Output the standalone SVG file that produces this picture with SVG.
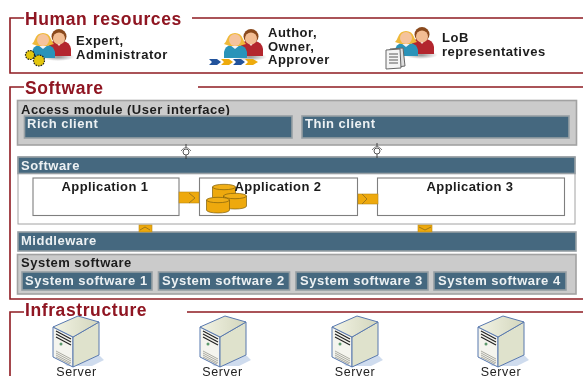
<svg xmlns="http://www.w3.org/2000/svg" width="583" height="376" viewBox="0 0 583 376">
<style>
text{font-family:"Liberation Sans",Arial,sans-serif;font-weight:bold;font-size:13px;letter-spacing:.5px}
.frame{fill:none;stroke:#8f1d22;stroke-width:1.6}
.h{font-size:17.5px;fill:#8f1420;letter-spacing:.6px}
.lbl{fill:#1c1c1c}
.panel{fill:#cbcbcb;stroke:#a2a2a2;stroke-width:1.6}
.blue{fill:#44687f;stroke:#979fa4;stroke-width:1.6}
.w{fill:#edf1f3}
.wb{fill:#fff;stroke:#7f7f7f;stroke-width:1.1}
.app{fill:#1a1a1a;text-anchor:middle;letter-spacing:.4px}
.conn{fill:#eea90c;stroke:#b98a1e;stroke-width:.6}
.cm{fill:none;stroke:#8c6c20;stroke-width:.8}
.srv{fill:#222;font-weight:normal;font-size:12.5px;text-anchor:middle;letter-spacing:.6px}
</style>
<defs>
<filter id="soft" x="-2%" y="-2%" width="104%" height="104%"><feGaussianBlur stdDeviation="0.4"/></filter>
<radialGradient id="sh"><stop offset="0" stop-color="#8f8f8f"/><stop offset="1" stop-color="#999" stop-opacity="0"/></radialGradient>
<linearGradient id="top" x1="0" y1="0" x2="1" y2="0"><stop offset="0" stop-color="#f2f3e4"/><stop offset="1" stop-color="#d3d6bd"/></linearGradient>
<symbol id="people" width="44" height="40" viewBox="0 0 44 40" overflow="visible">
<ellipse cx="27" cy="28" rx="17" ry="4" fill="url(#sh)"/>
<path d="M17 27V19q1-6 6-7h9q7 1 8 8v7z" fill="#b3262f"/>
<path d="M24 12l4 5 4-5z" fill="#f3f3f3"/>
<circle cx="28" cy="7.500" r="7.500" fill="#8a4a1e"/>
<ellipse cx="28" cy="9.500" rx="6" ry="6" fill="#f2bd93"/>
<path d="M1 29V23q1-6 7-7h8q7 1 8 7v6z" fill="#2a93b9"/>
<path d="M7 16l5 4 5-4z" fill="#f3f3f3"/>
<path d="M1 15q2-2 3-5 2-6 8-6 6 0 8 6 1 3 3 5l-7 2H7z" fill="#efb93a"/>
<ellipse cx="12" cy="11" rx="6" ry="6" fill="#f5c39c"/>
</symbol>
<symbol id="server" width="50" height="52" viewBox="0 0 50 52" overflow="visible">
<path d="M10 46l10 5 26-12 5 5-12 6H14z" fill="#cfdcee"/>
<path d="M0 11V41L20 51V21z" fill="#f4f4ee" stroke="#5878ae"/>
<path d="M20 21V51L46 39V6z" fill="#dfe2cc" stroke="#5878ae"/>
<path d="M0 11L25 0 46 6 20 21z" fill="url(#top)" stroke="#5878ae"/>
<path d="M3 15l15 8M3 18l15 8M3 21l15 8" stroke="#222" stroke-width="1.100"/>
<path d="M3 35l15 8M3 37l15 8M3 39l15 8M3 41l14 7" stroke="#8a8a80" stroke-width=".7"/>
<circle cx="8" cy="28" r="1.500" fill="#5c9a6c"/>
</symbol>
<symbol id="iface" width="12" height="16" viewBox="0 0 12 16" overflow="visible">
<path d="M6 0V4M6 11V15" stroke="#333" stroke-width=".9"/>
<path d="M1 7Q6 0 11 7" fill="none" stroke="#777"/>
<circle cx="6" cy="8" r="3" fill="#fff" stroke="#555"/>
</symbol>
<symbol id="db" width="24" height="17" viewBox="0 0 24 17" overflow="visible"><path d="M.5 3V13C.5 17 23.500 17 23.500 13V3z" fill="#eea90c" stroke="#7d5e10" stroke-width=".7"/><ellipse cx="12" cy="3" rx="11.500" ry="2.700" fill="#f0ae17" stroke="#7d5e10" stroke-width=".7"/></symbol>
</defs>
<rect width="583" height="376" fill="#fff"/>
<g filter="url(#soft)">
<g id="human-resources">
<path class="frame" d="M24 18H10V73H583M192 18H583"/>
<text class="h" x="25" y="25">Human resources</text>
</g>
<g id="expert">
<use href="#people" x="31" y="29"/>
<g fill="#e3c60e" stroke="#222" stroke-width="1.200"><circle cx="30" cy="55" r="4.500" stroke-dasharray="1.600 1"/><circle cx="39" cy="60.500" r="5.500" stroke-dasharray="1.600 1"/></g>
<text class="lbl" x="76" y="45">Expert,</text>
<text class="lbl" x="76" y="59">Administrator</text>
</g>
<g id="author">
<use href="#people" x="223" y="29"/>
<path d="M209 59h8l4 3-4 3h-8l3-3z" fill="#24539c"/><path d="M221 59h8l4 3-4 3h-8l3-3z" fill="#eeab0f"/><path d="M233 59h8l4 3-4 3h-8l3-3z" fill="#24539c"/><path d="M245 59h8l5 3-5 3h-8l3-3z" fill="#eeab0f"/>
<text class="lbl" x="268" y="37">Author,</text>
<text class="lbl" x="268" y="51">Owner,</text>
<text class="lbl" x="268" y="64">Approver</text>
</g>
<g id="lob">
<use href="#people" x="394" y="27"/>
<path d="M390 49l13-1 2 18-16 2z" fill="#dedede" stroke="#666"/>
<path d="M386 50l14-1 1 19-15 1z" fill="#f4f4f4" stroke="#666"/>
<path d="M389 54h9M389 57h9M389 60h9M389 63h9" stroke="#333" stroke-width=".8"/>
<text class="lbl" x="442" y="42">LoB</text>
<text class="lbl" x="442" y="56">representatives</text>
</g>
<g id="software-frame">
<path class="frame" d="M24 87H10V299H583M198 87H583"/>
<text class="h" x="25" y="94">Software</text>
</g>
<g id="access-module">
<rect class="panel" x="17.500" y="100.500" width="559" height="44.500"/>
<text class="lbl" x="21" y="114">Access module (User interface)</text>
</g>
<g id="rich-client"><rect class="blue" x="24.500" y="116" width="267.500" height="22"/><text class="w" x="27" y="128">Rich client</text></g>
<g id="thin-client"><rect class="blue" x="302" y="116" width="267" height="22"/><text class="w" x="305" y="128">Thin client</text></g>
<g id="software-panel">
<rect x="18" y="157" width="557" height="67" fill="#fff" stroke="#a2a2a2"/>
<rect class="blue" x="18" y="157" width="557" height="16.500"/>
<text class="w" x="21" y="169.500">Software</text>
</g>
<g id="application-1"><rect class="wb" x="33" y="178" width="146" height="37.500"/><text class="app" x="105" y="191">Application 1</text></g>
<g id="application-2"><rect class="wb" x="199.500" y="178" width="158" height="37.500"/>
<use href="#db" x="212" y="184"/>
<use href="#db" x="223" y="193"/>
<use href="#db" x="206" y="197"/>
<text class="app" x="278" y="191">Application 2</text></g>
<g id="application-3"><rect class="wb" x="377.500" y="178" width="187" height="37.500"/><text class="app" x="470" y="191">Application 3</text></g>
<g id="middleware"><rect class="blue" x="18" y="232" width="558" height="19"/><text class="w" x="21" y="245">Middleware</text></g>
<g id="system-software">
<rect class="panel" x="17.500" y="254.500" width="558.500" height="39.500"/>
<text class="lbl" x="21" y="267">System software</text>
</g>
<g id="system-software-1"><rect class="blue" x="22" y="272" width="130" height="18"/><text class="w" x="25" y="285">System software 1</text></g>
<g id="system-software-2"><rect class="blue" x="158.500" y="272" width="131" height="18"/><text class="w" x="162" y="285">System software 2</text></g>
<g id="system-software-3"><rect class="blue" x="296" y="272" width="132" height="18"/><text class="w" x="300" y="285">System software 3</text></g>
<g id="system-software-4"><rect class="blue" x="434" y="272" width="132" height="18"/><text class="w" x="438" y="285">System software 4</text></g>
<g id="infrastructure">
<path class="frame" d="M24 312H10V376M187 312H583"/>
<text class="h" x="25" y="316">Infrastructure</text>
</g>
<g id="server-1"><use href="#server" x="53" y="316"/><text class="srv" x="76.500" y="375.500">Server</text></g>
<g id="server-2"><use href="#server" x="200" y="316"/><text class="srv" x="222.500" y="375.500">Server</text></g>
<g id="server-3"><use href="#server" x="332" y="316"/><text class="srv" x="355" y="375.500">Server</text></g>
<g id="server-4"><use href="#server" x="478" y="316"/><text class="srv" x="501" y="375.500">Server</text></g>
<g id="connectors">
<rect class="conn" x="179" y="192" width="20" height="11"/><path class="cm" d="M189 193l6 5-6 5"/>
<rect class="conn" x="358" y="194" width="20" height="10"/><path class="cm" d="M362 194l5 5-5 5"/>
<rect class="conn" x="139" y="225" width="13" height="7"/><path class="cm" d="M140 230l5-3 5 3"/>
<rect class="conn" x="418" y="225" width="14" height="7"/><path class="cm" d="M419 227l6 3 6-3"/>
<use href="#iface" x="180" y="144"/>
<use href="#iface" x="371" y="143"/>
</g>
</g>
</svg>
